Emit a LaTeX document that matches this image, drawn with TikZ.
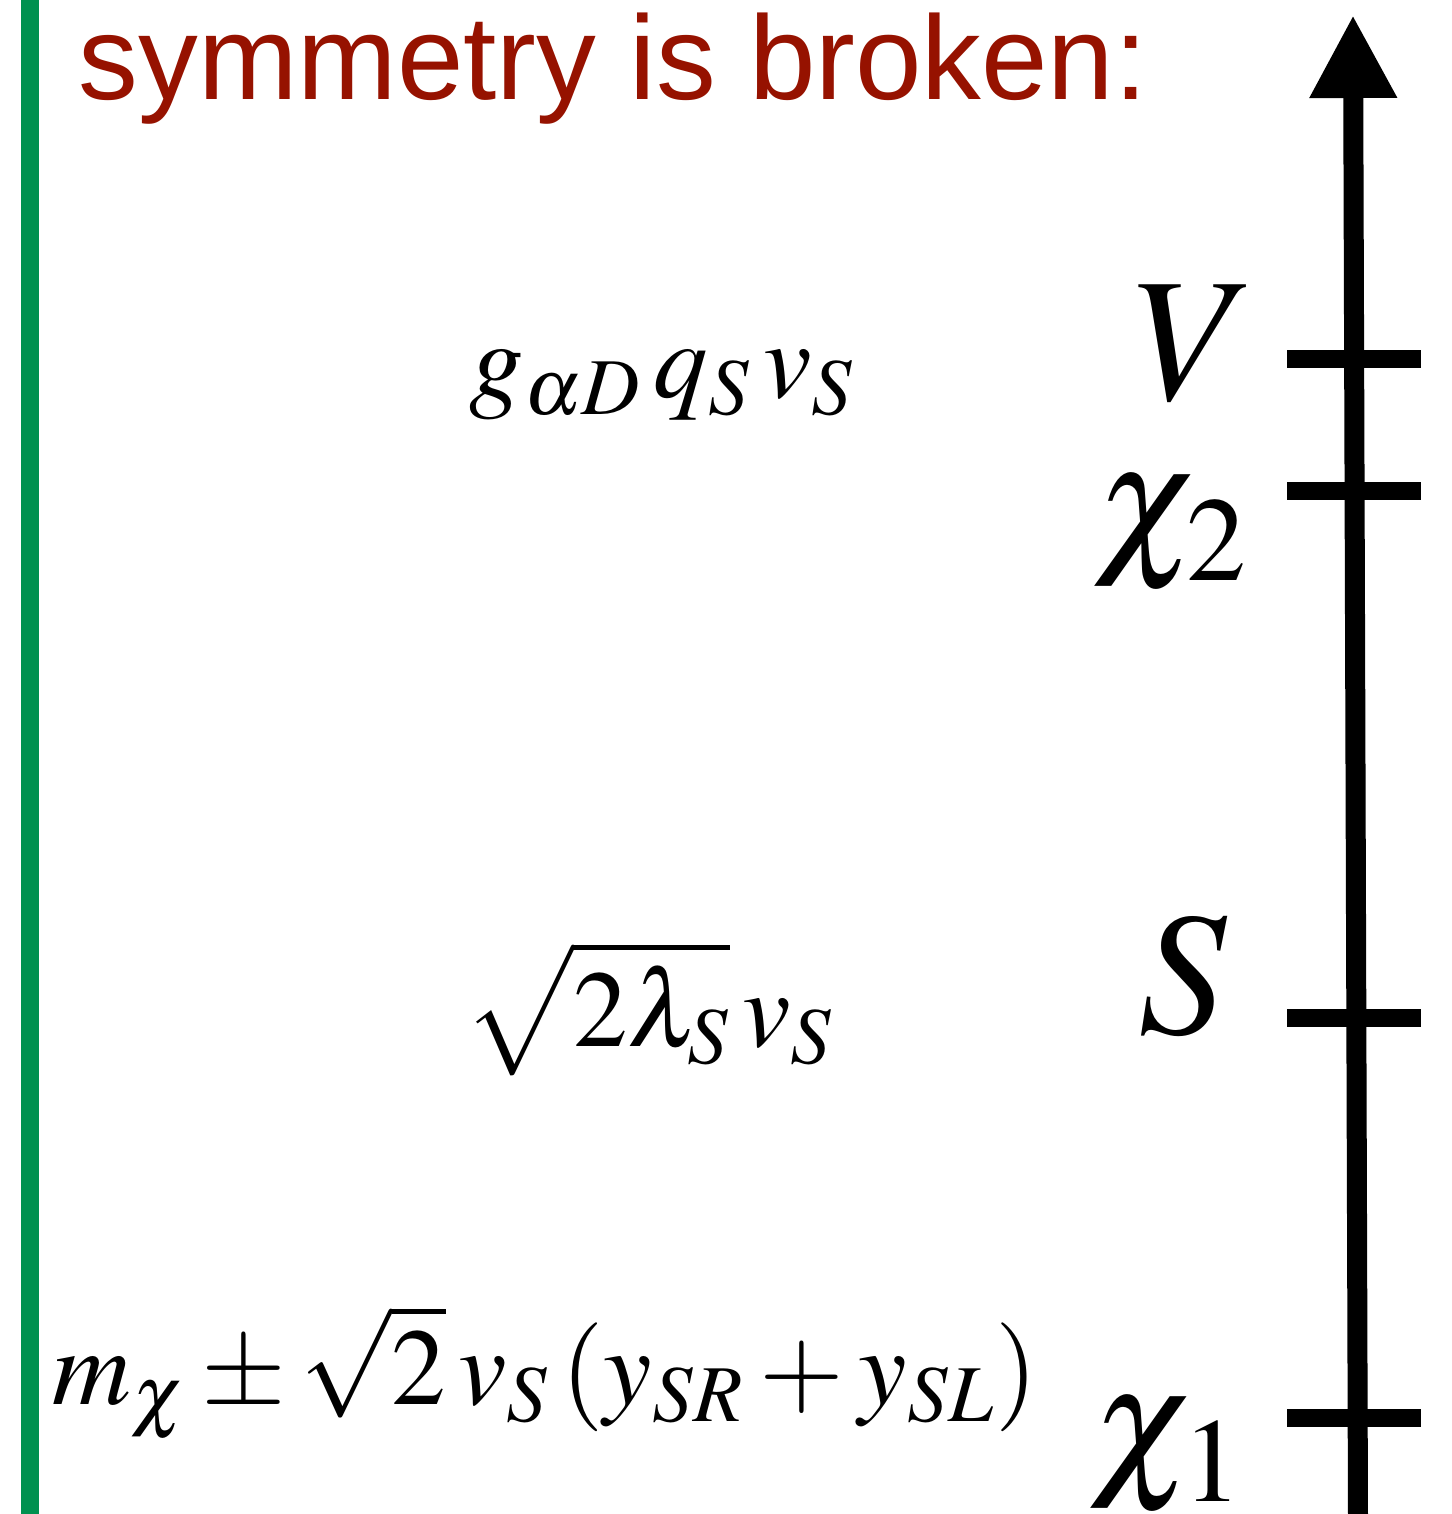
\documentclass[tikz,border=0pt]{standalone}
\usepackage{mathptmx}
\usepackage[no-math]{fontspec}
\newfontfamily\titlefont{Liberation Sans}
\usepackage{tikz}
\usetikzlibrary{arrows.meta, calc}
\definecolor{titlered}{HTML}{961200}
\definecolor{bargreen}{HTML}{009150}
\tikzset{
  levelmark/.style={line width=0.18cm},
  levellabel/.style={anchor=base, inner sep=0pt, font=\fontsize{50}{60}\selectfont},
  chilabel/.style={levellabel, font=\fontsize{46}{55}\selectfont},
  masslabel/.style={anchor=base, inner sep=0pt, font=\fontsize{31}{37}\selectfont},
}

\begin{document}
\begin{tikzpicture}
            \useasboundingbox (0,0) rectangle (14.52,15.14);
            % green bar on the left
            \draw[bargreen, line width=0.18cm] (0.30,0) -- (0.30,15.14);
            \node[anchor=base west, inner sep=0pt, text=titlered, font=\titlefont\fontsize{34}{40}\selectfont] (title) at (0.78,14.14) {symmetry is broken:};
            % mass axis
            \coordinate (axisbottom) at (13.58,0);
            \coordinate (axistop) at (13.53,14.99);
            \draw[line width=0.2cm, -{Triangle[length=0.83cm, width=0.82cm]}] (axisbottom) -- (axistop);
            \foreach \y in {11.55, 10.23, 4.96, 0.96}
                \draw[levelmark] (12.87,\y) -- (14.21,\y);
            % particle labels
            \node[levellabel] (V) at (11.95,11.14) {$V$};
            \node[chilabel] (chitwo) at (11.71,9.58) {$\chi_2$};
            \node[levellabel] (S) at (11.83,4.80) {$S$};
            \node[chilabel] (chione) at (11.67,0.37) {$\chi_1$};
            % masses
            \node[masslabel] (mV) at (6.62,11.16) {$g_{\alpha D}\,q_S\,v_S$};
            \node[masslabel] (mS) at (6.49,4.67) {$\sqrt{2\lambda_S}\,v_S$};
            \node[masslabel] (mchi) at (5.45,1.09) {$m_\chi \pm \sqrt{2}\,v_S\,(y_{SR}+y_{SL})$};
\end{tikzpicture}
\end{document}
